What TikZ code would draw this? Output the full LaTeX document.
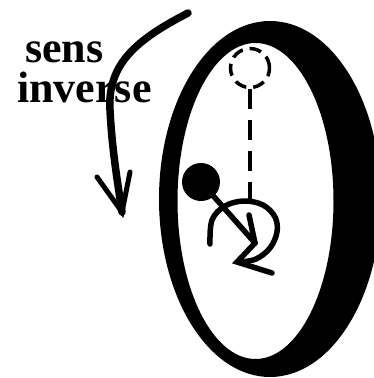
\documentclass[tikz,border=0pt]{standalone}
\usepackage{fontspec}
\setmainfont{Liberation Serif}
\begin{document}
\begin{tikzpicture}[x=1pt,y=-1pt,
  ink/.style={line width=5.5pt, line cap=round, line join=round},
  guide/.style={line width=4.5pt, dash pattern=on 20pt off 11pt},
  ghost/.style={draw, circle, minimum size=39pt, inner sep=0pt, line width=3.5pt, dash pattern=on 12pt off 7pt},
  bobstyle/.style={circle, fill=black, minimum size=38pt, inner sep=0pt},
  caption/.style={font=\fontsize{44}{44}\selectfont\bfseries, inner sep=0pt, anchor=base west}]
\useasboundingbox (0,0) rectangle (373,378);
\fill[white] (0,0) rectangle (373,378);

% thick oval frame
\fill[black, even odd rule]
  (270,199) ellipse [x radius=111, y radius=178]
  (255.5,201) ellipse [x radius=78, y radius=158];

% caption
\node[caption] (sens) at (25,62) {sens};
\node[caption] (inv) at (17,102) {inverse};

% dashed upper position and vertical guide
\node[ghost] (ghost) at (250,68) {};
\coordinate (axis) at (250,200);
\draw[guide] (ghost.south) -- (axis);

% pendulum bob, rod and short vertical stroke
\node[bobstyle] (bob) at (201,182) {};
\coordinate (pivot) at (255,243);
\coordinate (tick) at (249,215);
\draw[ink] (bob.center) -- (pivot);
\draw[ink] (tick) -- (pivot);

% rotation arc with its head
\coordinate (tipR) at (237,262);
\coordinate (wingR) at (272,273);
\draw[ink] plot[smooth, tension=0.6] coordinates {(210,244) (212,220) (225,206) (244,201) (263,205) (275,217) (277,232) (270,248) (256,259) (240,262)};
\draw[ink, line join=miter] (pivot) -- (tipR) -- (wingR);

% big curved arrow
\coordinate (start) at (188,13);
\coordinate (tip) at (122,212);
\coordinate (wl) at (97,177);
\coordinate (wr) at (130,172);
\draw[line width=7.5pt, line cap=round] (start) .. controls (140,38) and (107,62) .. (110,110) .. controls (112,150) and (118,185) .. (tip);
\draw[line width=5pt, line cap=round, line join=miter] (wl) -- (tip) -- (wr);
\end{tikzpicture}
\end{document}
